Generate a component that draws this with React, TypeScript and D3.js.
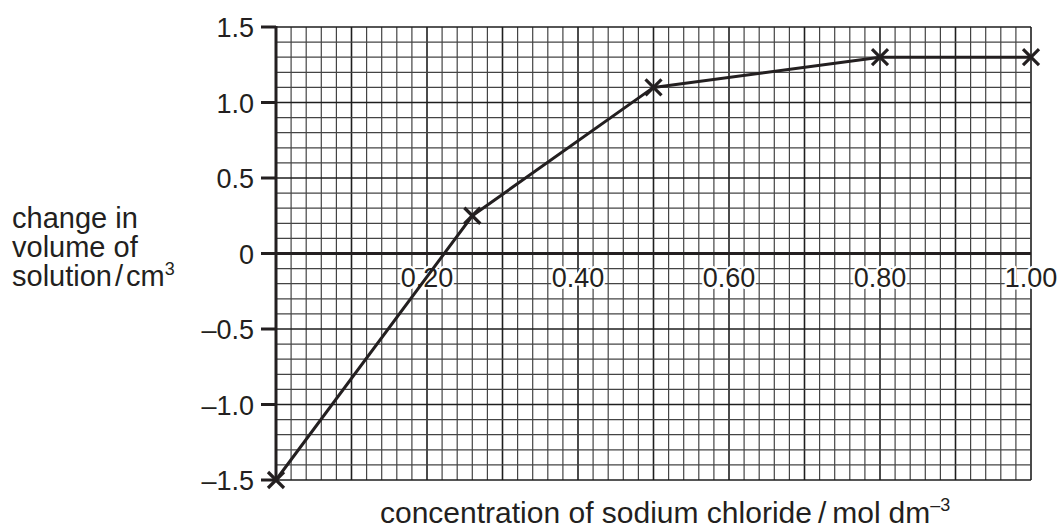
import React from "react";
import * as d3 from "d3";

const concentration = [0, 0.26, 0.5, 0.8, 1.0];
const volumeChange = [-1.5, 0.25, 1.1, 1.3, 1.3];
const yTicks = [1.5, 1.0, 0.5, 0, -0.5, -1.0, -1.5];
const yTickLabels = ["1.5", "1.0", "0.5", "0", "\u20130.5", "\u20131.0", "\u20131.5"];
const xTicks = [0.2, 0.4, 0.6, 0.8, 1.0];
const xTickLabels = ["0.20", "0.40", "0.60", "0.80", "1.00"];

const W = 1061;
const H = 529;
const INK = "#231f20";
const FONT = "'Liberation Sans', Arial, sans-serif";

export default function App() {
  const x = d3.scaleLinear().domain([0, 1]).range([276, 1031]);
  const y = d3.scaleLinear().domain([-1.5, 1.5]).range([480, 27]);

  const xMinor = d3.range(0, 51).map((i) => i * 0.02);
  const yMinor = d3.range(0, 31).map((i) => -1.5 + i * 0.1);

  const line = d3
    .line<number>()
    .x((_, i) => x(concentration[i]))
    .y((d) => y(d));

  const pts = concentration.map((c, i) => ({ c, v: volumeChange[i] }));
  const cs = 8;

  return (
    <svg
      width={W}
      height={H}
      style={{ position: "absolute", left: 0, top: 0, background: "#fff" }}
      fontFamily={FONT}
    >
      <rect x={0} y={0} width={W} height={H} fill="#fff" />
      {/* minor grid */}
      {xMinor.map((v, i) => (
        <line
          key={"vx" + i}
          x1={x(v)}
          x2={x(v)}
          y1={y(1.5)}
          y2={y(-1.5)}
          stroke={i % 5 === 0 ? "#1e1e1e" : "#444"}
          strokeWidth={i % 5 === 0 ? 1.6 : 1.2}
        />
      ))}
      {yMinor.map((v, i) => (
        <line
          key={"hy" + i}
          x1={x(0)}
          x2={x(1)}
          y1={y(v)}
          y2={y(v)}
          stroke={i % 5 === 0 ? "#1e1e1e" : "#444"}
          strokeWidth={i % 5 === 0 ? 1.6 : 1.2}
        />
      ))}
      {/* axes */}
      <line x1={x(0)} x2={x(0)} y1={y(1.5) - 1} y2={y(-1.5)} stroke={INK} strokeWidth={3} />
      <line x1={x(0)} x2={x(1)} y1={y(0)} y2={y(0)} stroke={INK} strokeWidth={3} />
      {/* y ticks */}
      {yTicks.map((v, i) => (
        <g key={"yt" + i}>
          <line x1={x(0) - 15} x2={x(0)} y1={y(v)} y2={y(v)} stroke={INK} strokeWidth={3} />
          <text
            x={x(0) - 22}
            y={y(v) + 10}
            textAnchor="end"
            fontSize={27}
            fill={INK}
          >
            {yTickLabels[i]}
          </text>
        </g>
      ))}
      {/* x tick labels inside plot with white halo */}
      {xTicks.map((v, i) => (
        <text
          key={"xt" + i}
          x={x(v)}
          y={y(0) + 33}
          textAnchor="middle"
          fontSize={27}
          fill={INK}
          stroke="#fff"
          strokeWidth={5}
          paintOrder="stroke"
          strokeLinejoin="round"
        >
          {xTickLabels[i]}
        </text>
      ))}
      {/* data line */}
      <path
        d={line(volumeChange) || ""}
        fill="none"
        stroke={INK}
        strokeWidth={3}
        strokeLinejoin="round"
      />
      {pts.map((p, i) => (
        <g key={"p" + i} stroke={INK} strokeWidth={3.2}>
          <line x1={x(p.c) - cs} x2={x(p.c) + cs} y1={y(p.v) - cs} y2={y(p.v) + cs} />
          <line x1={x(p.c) - cs} x2={x(p.c) + cs} y1={y(p.v) + cs} y2={y(p.v) - cs} />
        </g>
      ))}
      {/* y axis title */}
      <text x={12} y={228} fontSize={29} fill={INK}>
        change in
      </text>
      <text x={12} y={257} fontSize={29} fill={INK}>
        volume of
      </text>
      <text x={12} y={286} fontSize={29} fill={INK}>
        solution
        <tspan dx={3}>/</tspan>
        <tspan dx={3}>cm</tspan>
        <tspan dy={-11} fontSize={18}>3</tspan>
      </text>
      {/* x axis title */}
      <text x={380} y={523} fontSize={30} fill={INK}>
        concentration of sodium chloride
        <tspan dx={6}>/</tspan>
        <tspan dx={6}>mol</tspan>
        <tspan dx={8}>dm</tspan>
        <tspan dy={-12} fontSize={18}>{"\u20133"}</tspan>
      </text>
    </svg>
  );
}
